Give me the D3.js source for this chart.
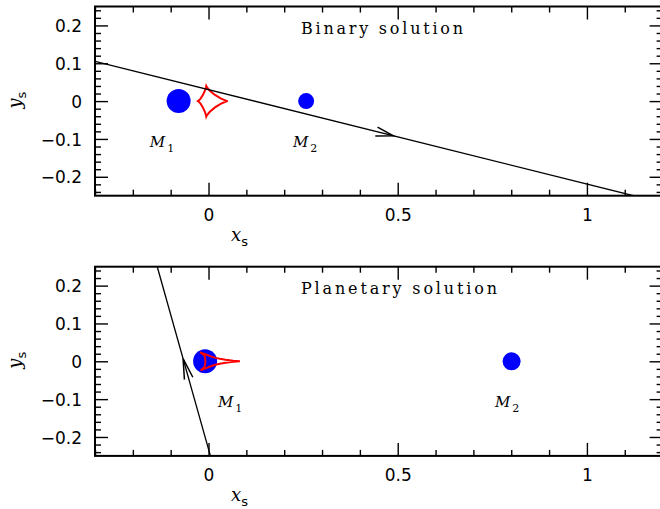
<!DOCTYPE html>
<html>
<head>
<meta charset="utf-8">
<script src="https://cdn.jsdelivr.net/npm/d3@7"></script>
<style>
  body { margin: 0; background: #fff; }
  svg { display: block; }
</style>
</head>
<body>
<script>
// ---- Source-plane geometry of the two lens models (Einstein-radius units) ----
const panelTitles = ["Binary solution", "Planetary solution"];

const xTickValues = [0, 0.5, 1];
const xTickLabels = ["0", "0.5", "1"];
const yTickValues = [0.2, 0.1, 0, -0.1, -0.2];
const yTickLabels = ["0.2", "0.1", "0", "\u22120.1", "\u22120.2"];

const lensNames = ["1", "2"];

// lens positions [x, y]
const binaryLenses = [[-0.079, 0], [0.258, 0]];
const planetaryLenses = [[-0.009, 0], [0.801, 0]];

// source trajectories: [start, end], travelled from start to end
const binaryTrajectory = [[-0.3, 0.105], [1.123, -0.25]];
const planetaryTrajectory = [[0.005, -0.25], [-0.1355, 0.25]];

// fraction along each trajectory where the direction arrow sits
const binaryArrowAt = 0.554;
const planetaryArrowAt = 0.514;

// central caustic of the binary model
const binaryCaustic = [
  [0.051, 0], [0.0461, 0.0012], [0.0332, 0.0066], [0.0171, 0.0162], [0.0034, 0.0275], [-0.0043, 0.0366],
  [-0.006, 0.040],
  [-0.0067, 0.0366], [-0.0096, 0.0275], [-0.0149, 0.0162], [-0.0211, 0.0066], [-0.0261, 0.0012],
  [-0.028, 0],
  [-0.0261, -0.0012], [-0.0211, -0.0068], [-0.0149, -0.0166], [-0.0096, -0.0282], [-0.0067, -0.0375],
  [-0.006, -0.041],
  [-0.0043, -0.0375], [0.0034, -0.0282], [0.0171, -0.0166], [0.0332, -0.0068], [0.0461, -0.0012],
  [0.051, 0]
];

// central caustic of the planetary model
const planetaryCaustic = [
  [0.083, 0], [0.065, 0.0015], [0.045, 0.004], [0.030, 0.0065], [0.018, 0.009], [0.006, 0.013], [-0.006, 0.018],
  [-0.0225, 0.0235],
  [-0.015, 0.019], [-0.0105, 0.0145], [-0.0088, 0.008], [-0.0083, 0], [-0.0088, -0.008], [-0.0105, -0.0145], [-0.015, -0.019],
  [-0.021, -0.0235],
  [-0.006, -0.018], [0.006, -0.013], [0.018, -0.009], [0.030, -0.0065], [0.045, -0.004], [0.065, -0.0015],
  [0.083, 0]
];

// ---- drawing ----
const W = 660, H = 509;
const svg = d3.select("body").append("svg").attr("width", W).attr("height", H);

const xDomain = [-0.3, 1.2], yDomain = [-0.25, 0.25];
const left = 95, right = 662.6;

const panels = [
  { title: panelTitles[0], top: 6.5, lenses: binaryLenses, traj: binaryTrajectory, arrowAt: binaryArrowAt,
    caustic: binaryCaustic, dotR: [12, 8],
    labelPos: [[-0.155, -0.122], [0.223, -0.122]], arrowHalf: 15, arrowLen: 18 },
  { title: panelTitles[1], top: 266.7, lenses: planetaryLenses, traj: planetaryTrajectory, arrowAt: planetaryArrowAt,
    caustic: planetaryCaustic, dotR: [12, 9],
    labelPos: [[0.025, -0.12], [0.757, -0.12]], arrowHalf: 12, arrowLen: 21 }
];

const minorX = d3.range(-3, 13).map(i => i / 10).filter(v => Math.abs(v * 2 - Math.round(v * 2)) > 1e-6);
const minorY = d3.range(-12, 13).map(i => i / 50).filter(v => Math.abs(v * 10 - Math.round(v * 10)) > 1e-6);

const tickFont = "'DejaVu Sans', sans-serif";
const serifFont = "'DejaVu Serif', serif";

panels.forEach((p, pi) => {
  const bottom = p.top + (right - left) * (yDomain[1] - yDomain[0]) / (xDomain[1] - xDomain[0]);
  const x = d3.scaleLinear().domain(xDomain).range([left, right]);
  const y = d3.scaleLinear().domain(yDomain).range([bottom, p.top]);
  const g = svg.append("g");

  const clipId = "clip" + pi;
  svg.append("clipPath").attr("id", clipId)
    .append("rect").attr("x", left).attr("y", p.top).attr("width", right - left).attr("height", bottom - p.top);

  // axes: major + minor ticks on all four sides, pointing inward
  function styleAxis(sel) {
    sel.select(".domain").remove();
    sel.selectAll(".tick line").attr("stroke", "#000").attr("stroke-width", 1.4);
  }
  const sides = [
    { gen: d3.axisBottom, scale: x, tr: `translate(0,${bottom})`, major: xTickValues, minor: minorX, labels: true },
    { gen: d3.axisTop, scale: x, tr: `translate(0,${p.top})`, major: xTickValues, minor: minorX, labels: false },
    { gen: d3.axisLeft, scale: y, tr: `translate(${left},0)`, major: yTickValues, minor: minorY, labels: true },
    { gen: d3.axisRight, scale: y, tr: `translate(${right},0)`, major: yTickValues, minor: minorY, labels: false }
  ];
  sides.forEach(s => {
    const minorAx = g.append("g").attr("transform", s.tr)
      .call(s.gen(s.scale).tickValues(s.minor).tickSizeInner(-6).tickSizeOuter(0).tickFormat(""));
    styleAxis(minorAx);
    const isX = s.scale === x;
    const labels = isX ? xTickLabels : yTickLabels;
    const majorAx = g.append("g").attr("transform", s.tr)
      .call(s.gen(s.scale).tickValues(s.major).tickSizeInner(-13).tickSizeOuter(0).tickPadding(13)
        .tickFormat(s.labels ? ((d, i) => labels[i]) : ""));
    styleAxis(majorAx);
    majorAx.selectAll("text").attr("fill", "#000").style("font-family", tickFont).style("font-size", "17px");
    if (!isX) majorAx.selectAll("text").attr("dy", "0.36em");
  });

  // frame
  g.append("rect").attr("x", left).attr("y", p.top).attr("width", right - left).attr("height", bottom - p.top)
    .attr("fill", "none").attr("stroke", "#000").attr("stroke-width", 2);

  // axis titles
  const xt = g.append("text").attr("x", 231).attr("y", bottom + 44.8)
    .style("font-family", serifFont).style("font-size", "18px").attr("fill", "#000");
  xt.append("tspan").style("font-style", "italic").text("x");
  xt.append("tspan").attr("dy", 5).style("font-family", tickFont).style("font-size", "13px").text("s");

  const yc = (p.top + bottom) / 2 - 1;
  const yt = g.append("text").attr("transform", `translate(21,${yc}) rotate(-90)`).attr("text-anchor", "middle")
    .style("font-family", serifFont).style("font-size", "18px").attr("fill", "#000");
  yt.append("tspan").style("font-style", "italic").text("y");
  yt.append("tspan").attr("dy", 5).style("font-family", tickFont).style("font-size", "13px").text("s");

  // title
  g.append("text").attr("x", 301).attr("y", p.top + 27.6)
    .attr("textLength", pi === 0 ? 162 : 196).attr("lengthAdjust", "spacing")
    .style("font-family", serifFont).style("font-size", "16px").attr("fill", "#000")
    .text(p.title);

  // lenses
  g.selectAll("circle.lens").data(p.lenses).join("circle").attr("class", "lens")
    .attr("cx", d => x(d[0])).attr("cy", d => y(d[1])).attr("r", (d, i) => p.dotR[i])
    .attr("fill", "#0000ff");

  // caustic
  const line = d3.line().x(d => x(d[0])).y(d => y(d[1]));
  g.append("path").attr("d", line(p.caustic)).attr("fill", "none")
    .attr("stroke", "#ff0000").attr("stroke-width", 2).attr("stroke-linejoin", "miter");

  // trajectory
  const plot = g.append("g").attr("clip-path", `url(#${clipId})`);
  plot.append("path").attr("d", line(p.traj)).attr("fill", "none")
    .attr("stroke", "#000").attr("stroke-width", 1.3);

  // direction arrow
  const [a, b] = p.traj;
  const tipD = [a[0] + (b[0] - a[0]) * p.arrowAt, a[1] + (b[1] - a[1]) * p.arrowAt];
  const tx = x(tipD[0]), ty = y(tipD[1]);
  const ang = Math.atan2(y(a[1]) - y(b[1]), x(a[0]) - x(b[0]));
  const h = p.arrowHalf * Math.PI / 180;
  const barb1 = [tx + p.arrowLen * Math.cos(ang + h), ty + p.arrowLen * Math.sin(ang + h)];
  const barb2 = [tx + p.arrowLen * Math.cos(ang - h), ty + p.arrowLen * Math.sin(ang - h)];
  plot.append("path")
    .attr("d", d3.line()([barb1, [tx, ty], barb2]))
    .attr("fill", "none").attr("stroke", "#000").attr("stroke-width", 1.5);

  // lens labels
  p.labelPos.forEach((lp, i) => {
    const t = g.append("text").attr("x", x(lp[0])).attr("y", y(lp[1]))
      .style("font-family", serifFont).style("font-size", "15px").attr("fill", "#000");
    t.append("tspan").style("font-style", "italic").text("M");
    t.append("tspan").attr("dx", 2).attr("dy", 5).style("font-size", "11px").text(lensNames[i]);
  });
});
</script>
</body>
</html>
